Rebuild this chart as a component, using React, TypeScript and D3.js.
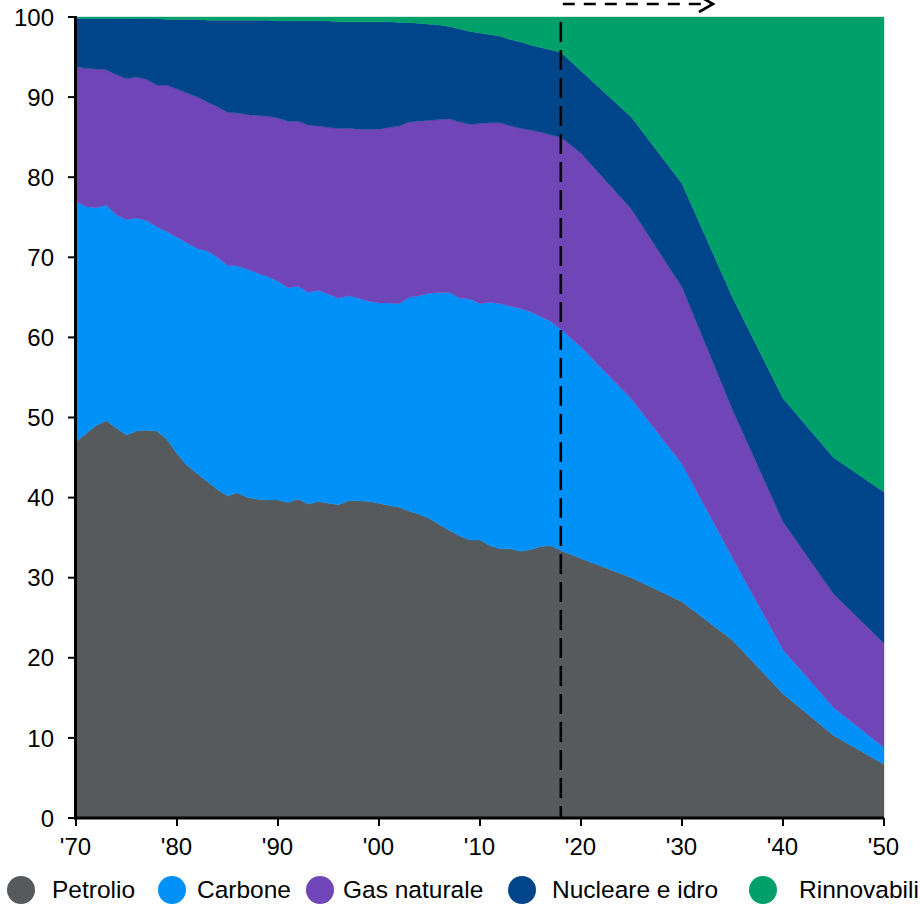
import React from "react";
import * as d3 from "d3";

const years = [
  1970, 1971, 1972, 1973, 1974, 1975, 1976, 1977, 1978, 1979,
  1980, 1981, 1982, 1983, 1984, 1985, 1986, 1987, 1988, 1989,
  1990, 1991, 1992, 1993, 1994, 1995, 1996, 1997, 1998, 1999,
  2000, 2001, 2002, 2003, 2004, 2005, 2006, 2007, 2008, 2009,
  2010, 2011, 2012, 2013, 2014, 2015, 2016, 2017, 2018,
  2020, 2025, 2030, 2035, 2040, 2045, 2050,
];

const petrolio = [
  47.0, 48.0, 49.0, 49.6, 48.7, 47.8, 48.3, 48.4, 48.3, 47.3,
  45.5, 44.0, 43.0, 42.0, 41.0, 40.2, 40.6, 40.0, 39.8, 39.7,
  39.7, 39.4, 39.8, 39.2, 39.5, 39.3, 39.1, 39.6, 39.6, 39.5,
  39.3, 39.0, 38.8, 38.3, 37.9, 37.4, 36.6, 35.9, 35.2, 34.7,
  34.7, 34.0, 33.6, 33.6, 33.3, 33.5, 33.9, 34.0, 33.4,
  32.4, 30.0, 27.0, 22.2, 15.5, 10.3, 6.7,
];

const carbone = [
  30.0, 28.3, 27.2, 26.9, 26.6, 26.9, 26.6, 26.2, 25.5, 25.9,
  27.0, 27.8, 28.1, 28.8, 29.0, 28.8, 28.3, 28.5, 28.2, 27.9,
  27.3, 26.8, 26.6, 26.4, 26.4, 26.1, 25.8, 25.6, 25.3, 25.0,
  25.0, 25.3, 25.4, 26.7, 27.3, 28.1, 29.0, 29.7, 29.7, 30.1,
  29.5, 30.4, 30.6, 30.3, 30.3, 29.7, 28.7, 28.0, 27.6,
  26.4, 22.3, 17.2, 10.3, 5.5, 3.5, 2.1,
];

const gasNaturale = [
  16.8, 17.3, 17.3, 16.9, 17.5, 17.6, 17.6, 17.6, 17.7, 18.3,
  18.5, 18.7, 18.9, 18.6, 18.8, 19.1, 19.1, 19.3, 19.7, 20.0,
  20.4, 20.8, 20.6, 20.9, 20.5, 20.8, 21.2, 20.9, 21.1, 21.5,
  21.7, 21.9, 22.2, 21.9, 21.8, 21.6, 21.6, 21.7, 22.0, 21.8,
  22.5, 22.4, 22.6, 22.5, 22.5, 22.7, 23.0, 23.3, 24.0,
  24.2, 23.7, 22.1, 18.5, 16.0, 14.2, 13.0,
];

const nucleareIdro = [
  6.0, 6.2, 6.3, 6.4, 7.0, 7.5, 7.3, 7.6, 8.3, 8.2,
  8.7, 9.2, 9.7, 10.2, 10.8, 11.5, 11.6, 11.8, 11.9, 12.0,
  12.1, 12.5, 12.5, 13.0, 13.1, 13.3, 13.3, 13.3, 13.4, 13.4,
  13.4, 13.2, 12.9, 12.4, 12.2, 12.0, 11.8, 11.5, 11.6, 11.6,
  11.3, 11.0, 10.8, 10.8, 10.8, 10.6, 10.6, 10.6, 10.6,
  10.3, 11.5, 12.9, 14.0, 15.4, 17.0, 18.9,
];

const rinnovabili = [
  0.2, 0.2, 0.2, 0.2, 0.2, 0.2, 0.2, 0.2, 0.2, 0.3,
  0.3, 0.3, 0.3, 0.4, 0.4, 0.4, 0.4, 0.4, 0.4, 0.4,
  0.5, 0.5, 0.5, 0.5, 0.5, 0.5, 0.6, 0.6, 0.6, 0.6,
  0.6, 0.6, 0.7, 0.7, 0.8, 0.9, 1.0, 1.2, 1.5, 1.8,
  2.0, 2.2, 2.4, 2.8, 3.1, 3.5, 3.8, 4.1, 4.4,
  6.7, 12.5, 20.8, 35.0, 47.6, 55.0, 59.3,
];

const seriesNames = ["Petrolio", "Carbone", "Gas naturale", "Nucleare e idro", "Rinnovabili"];
const seriesColors = ["#575a5d", "#0091f8", "#7045b8", "#004589", "#00a06b"];
const seriesValues = [petrolio, carbone, gasNaturale, nucleareIdro, rinnovabili];

const yTicks = [0, 10, 20, 30, 40, 50, 60, 70, 80, 90, 100];
const xTicks = [1970, 1980, 1990, 2000, 2010, 2020, 2030, 2040, 2050];
const xTickLabels = ["'70", "'80", "'90", "'00", "'10", "'20", "'30", "'40", "'50"];
const forecastStart = 2018;

const legendCircleX = [21, 172, 320, 522, 763];
const legendTextX = [52, 197, 343, 552, 799];

const FONT = "Arial, 'Liberation Sans', Helvetica, sans-serif";

export default function App() {
  const left = 76, right = 884, top = 17, bottom = 818;
  const x = d3.scaleLinear().domain([1970, 2050]).range([left, right]);
  const y = d3.scaleLinear().domain([0, 100]).range([bottom, top]);

  const table = years.map((yr, i) => {
    const row: Record<string, number> = { year: yr };
    seriesNames.forEach((n, k) => (row[n] = seriesValues[k][i]));
    return row;
  });
  const stacked = d3.stack<Record<string, number>>().keys(seriesNames)(table);
  const area = d3
    .area<d3.SeriesPoint<Record<string, number>>>()
    .x((d) => x(d.data.year))
    .y0((d) => y(d[0]))
    .y1((d) => y(d[1]))
    .curve(d3.curveLinear);

  const fx = x(forecastStart);
  const arrowEnd = 713;

  return (
    <svg
      width={920}
      height={904}
      style={{ position: "absolute", left: 0, top: 0, background: "#fff" }}
      fontFamily={FONT}
    >
      {stacked.map((s, k) => (
        <path key={s.key} d={area(s) || ""} fill={seriesColors[k]} stroke={seriesColors[k]} strokeWidth={0.4} />
      ))}

      {/* forecast divider */}
      <line x1={fx} x2={fx} y1={22} y2={bottom} stroke="#000" strokeWidth={2.6} strokeDasharray="20 8" />
      <line x1={fx + 2} x2={arrowEnd - 1} y1={4} y2={4} stroke="#000" strokeWidth={2.6} strokeDasharray="12 9" />
      <polyline
        points={`${arrowEnd - 14},${-4} ${arrowEnd},${4} ${arrowEnd - 14},${12}`}
        fill="none"
        stroke="#000"
        strokeWidth={2.6}
      />

      {/* y axis */}
      <line x1={left - 0.5} x2={left - 0.5} y1={top - 1} y2={bottom + 1.5} stroke="#000" strokeWidth={3} />
      {yTicks.map((t) => (
        <g key={t}>
          <line x1={68} x2={left} y1={y(t)} y2={y(t)} stroke="#000" strokeWidth={2} />
          <text x={54} y={y(t)} dy="0.36em" textAnchor="end" fontSize={24} fill="#000">
            {t}
          </text>
        </g>
      ))}

      {/* x axis */}
      <line x1={left - 2} x2={right} y1={bottom} y2={bottom} stroke="#000" strokeWidth={3} />
      {xTicks.map((t, i) => (
        <g key={t}>
          <line x1={x(t)} x2={x(t)} y1={bottom} y2={826} stroke="#000" strokeWidth={2} />
          <text x={x(t) - 0.5} y={855} textAnchor="middle" fontSize={24} fill="#000">
            {xTickLabels[i]}
          </text>
        </g>
      ))}

      {/* legend */}
      {seriesNames.map((n, k) => (
        <g key={n}>
          <circle cx={legendCircleX[k]} cy={890} r={14} fill={seriesColors[k]} />
          <text x={legendTextX[k]} y={898} fontSize={24.5} fill="#000">
            {n}
          </text>
        </g>
      ))}
    </svg>
  );
}
